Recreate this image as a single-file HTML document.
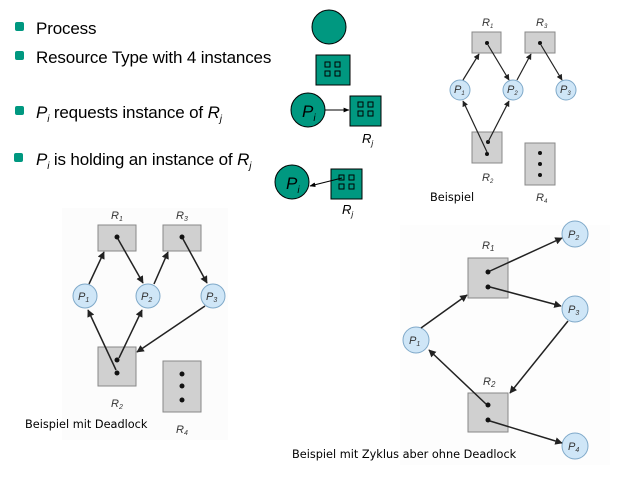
<!DOCTYPE html>
<html><head><meta charset="utf-8"><style>
body{margin:0;background:#fff;}
svg{display:block;font-family:"Liberation Sans",sans-serif;}
.lbl{font-style:italic;font-size:11px;fill:#333;}
.box{fill:#d0d0d0;stroke:#888;stroke-width:1;}
.pc{fill:#cfe6f7;stroke:#7fa9c9;stroke-width:1;}
.ar{stroke:#222;stroke-width:1.5;fill:none;marker-end:url(#ah);}
.g{fill:#009880;stroke:#000;stroke-width:1;}
.gs{fill:none;stroke:#000;stroke-width:1;}
.t{font-size:17px;fill:#000;letter-spacing:-0.15px;}
.cap{font-family:"DejaVu Sans",sans-serif;font-size:11.3px;fill:#000;}
</style></head><body>
<svg width="640" height="480" viewBox="0 0 640 480" xmlns="http://www.w3.org/2000/svg">
<defs>
<marker id="ah" viewBox="0 0 10 10" refX="9" refY="5" markerWidth="5" markerHeight="5" orient="auto"><path d="M0,0 L10,5 L0,10 z" fill="#222"/></marker>
<marker id="ah2" viewBox="0 0 10 10" refX="9" refY="5" markerWidth="6" markerHeight="6" orient="auto"><path d="M0,1 L10,5 L0,9 z" fill="#000"/></marker>
</defs>
<rect x="62" y="208" width="166" height="232" fill="#fcfcfc"/>
<rect x="400" y="225" width="210" height="240" fill="#fdfdfd"/>

<!-- legend -->
<g fill="#009880">
<rect x="15" y="22" width="9" height="9" rx="2"/>
<rect x="15" y="51" width="9" height="9" rx="2"/>
<rect x="15" y="106" width="9" height="9" rx="2"/>
<rect x="14" y="153" width="9" height="9" rx="2"/>
</g>
<text x="36" y="34" class="t">Process</text>
<text x="36" y="63" class="t">Resource Type with 4 instances</text>
<text x="36" y="118" class="t"><tspan font-style="italic">P</tspan><tspan font-style="italic" font-size="10" dy="4">i</tspan><tspan dy="-4"> requests instance of </tspan><tspan font-style="italic">R</tspan><tspan font-style="italic" font-size="10" dy="4">j</tspan></text>
<text x="36" y="165" class="t"><tspan font-style="italic">P</tspan><tspan font-style="italic" font-size="10" dy="4">i</tspan><tspan dy="-4"> is holding an instance of </tspan><tspan font-style="italic">R</tspan><tspan font-style="italic" font-size="10" dy="4">j</tspan></text>

<circle cx="329" cy="27" r="17" class="g"/>
<rect x="316" y="55" width="34" height="30" class="g"/>
<g class="gs"><rect x="325" y="62" width="5" height="5"/><rect x="335" y="62" width="5" height="5"/><rect x="325" y="71" width="5" height="5"/><rect x="335" y="71" width="5" height="5"/></g>

<circle cx="308" cy="110" r="17" class="g"/>
<text x="302" y="117" font-size="17" font-style="italic">P<tspan font-size="10" dy="4">i</tspan></text>
<line x1="325" y1="110" x2="349" y2="110" stroke="#000" stroke-width="1" marker-end="url(#ah2)"/>
<rect x="350" y="96" width="31" height="30" class="g"/>
<g class="gs"><rect x="358" y="102" width="5" height="5"/><rect x="368" y="102" width="5" height="5"/><rect x="358" y="111" width="5" height="5"/><rect x="368" y="111" width="5" height="5"/></g>
<text x="362" y="143" font-size="13" font-style="italic">R<tspan font-size="8" dy="3">j</tspan></text>

<circle cx="292" cy="182" r="17" class="g"/>
<text x="286" y="189" font-size="17" font-style="italic">P<tspan font-size="10" dy="4">i</tspan></text>
<rect x="331" y="169" width="31" height="30" class="g"/>
<g class="gs"><rect x="339" y="175" width="5" height="5"/><rect x="349" y="175" width="5" height="5"/><rect x="339" y="184" width="5" height="5"/><rect x="349" y="184" width="5" height="5"/></g>
<line x1="342" y1="178" x2="310" y2="186" stroke="#000" stroke-width="1" marker-end="url(#ah2)"/>
<text x="342" y="214" font-size="13" font-style="italic">R<tspan font-size="8" dy="3">j</tspan></text>

<!-- top right Beispiel -->
<g font-size="9">
<rect x="472" y="32" width="29" height="21" class="box"/>
<rect x="525" y="32" width="30" height="21" class="box"/>
<rect x="472" y="132" width="30" height="31" class="box"/>
<rect x="525" y="143" width="30" height="42" class="box"/>
<circle cx="460" cy="90" r="10" class="pc"/>
<circle cx="513" cy="90" r="10" class="pc"/>
<circle cx="566" cy="90" r="10" class="pc"/>
<text x="454" y="93" class="lbl" font-size="9">P<tspan font-size="6" dy="2">1</tspan></text>
<text x="507" y="93" class="lbl" font-size="9">P<tspan font-size="6" dy="2">2</tspan></text>
<text x="560" y="93" class="lbl" font-size="9">P<tspan font-size="6" dy="2">3</tspan></text>
<text x="482" y="26" class="lbl" font-size="9">R<tspan font-size="6" dy="2">1</tspan></text>
<text x="536" y="26" class="lbl" font-size="9">R<tspan font-size="6" dy="2">3</tspan></text>
<text x="482" y="181" class="lbl" font-size="9">R<tspan font-size="6" dy="2">2</tspan></text>
<text x="536" y="201" class="lbl" font-size="9">R<tspan font-size="6" dy="2">4</tspan></text>
<g fill="#111"><circle cx="487" cy="43" r="2"/><circle cx="540" cy="43" r="2"/><circle cx="488" cy="142" r="2"/><circle cx="487" cy="154" r="2"/><circle cx="540" cy="153" r="2"/><circle cx="540" cy="164" r="2"/><circle cx="540" cy="175" r="2"/></g>
<g class="ar" style="stroke-width:1.2">
<line x1="463" y1="80" x2="479" y2="54"/>
<line x1="488" y1="45" x2="509" y2="80"/>
<line x1="517" y1="80" x2="531" y2="54"/>
<line x1="541" y1="45" x2="562" y2="80"/>
<line x1="487" y1="152" x2="463" y2="101"/>
<line x1="488" y1="142" x2="509" y2="101"/>
</g>
<text x="430" y="201" class="cap" font-size="10.5">Beispiel</text>
</g>

<!-- bottom left -->
<rect x="98" y="225" width="38" height="26" class="box"/>
<rect x="163" y="225" width="38" height="26" class="box"/>
<rect x="98" y="347" width="38" height="39" class="box"/>
<rect x="163" y="361" width="38" height="51" class="box"/>
<circle cx="85" cy="296" r="12" class="pc"/>
<circle cx="148" cy="296" r="12" class="pc"/>
<circle cx="213" cy="296" r="12" class="pc"/>
<text x="78" y="300" class="lbl">P<tspan font-size="7" dy="2">1</tspan></text>
<text x="141" y="300" class="lbl">P<tspan font-size="7" dy="2">2</tspan></text>
<text x="206" y="300" class="lbl">P<tspan font-size="7" dy="2">3</tspan></text>
<text x="111" y="219" class="lbl">R<tspan font-size="7" dy="2">1</tspan></text>
<text x="176" y="219" class="lbl">R<tspan font-size="7" dy="2">3</tspan></text>
<text x="111" y="407" class="lbl">R<tspan font-size="7" dy="2">2</tspan></text>
<text x="176" y="433" class="lbl">R<tspan font-size="7" dy="2">4</tspan></text>
<g fill="#111"><circle cx="117" cy="237" r="2.5"/><circle cx="182" cy="237" r="2.5"/><circle cx="117" cy="360" r="2.5"/><circle cx="117" cy="373" r="2.5"/><circle cx="182" cy="374" r="2.5"/><circle cx="182" cy="386" r="2.5"/><circle cx="182" cy="400" r="2.5"/></g>
<g class="ar">
<line x1="89" y1="284" x2="104" y2="252"/>
<line x1="118" y1="239" x2="143" y2="283"/>
<line x1="154" y1="284" x2="168" y2="252"/>
<line x1="183" y1="239" x2="207" y2="283"/>
<line x1="116" y1="370" x2="88" y2="310"/>
<line x1="119" y1="358" x2="142" y2="310"/>
<line x1="205" y1="306" x2="137" y2="352"/>
</g>
<text x="25" y="428" class="cap" font-size="11.2">Beispiel mit Deadlock</text>

<!-- bottom right -->
<rect x="468" y="258" width="40" height="40" class="box"/>
<rect x="468" y="393" width="40" height="39" class="box"/>
<circle cx="575" cy="234" r="13" class="pc"/>
<circle cx="575" cy="309" r="13" class="pc"/>
<circle cx="416" cy="340" r="13" class="pc"/>
<circle cx="575" cy="446" r="13" class="pc"/>
<text x="568" y="238" class="lbl">P<tspan font-size="7" dy="2">2</tspan></text>
<text x="568" y="313" class="lbl">P<tspan font-size="7" dy="2">3</tspan></text>
<text x="409" y="344" class="lbl">P<tspan font-size="7" dy="2">1</tspan></text>
<text x="568" y="450" class="lbl">P<tspan font-size="7" dy="2">4</tspan></text>
<text x="482" y="249" class="lbl" font-size="12">R<tspan font-size="8" dy="2">1</tspan></text>
<text x="483" y="385" class="lbl" font-size="12">R<tspan font-size="8" dy="2">2</tspan></text>
<g fill="#111"><circle cx="488" cy="272" r="2.5"/><circle cx="488" cy="287" r="2.5"/><circle cx="488" cy="405" r="2.5"/><circle cx="488" cy="420" r="2.5"/></g>
<g class="ar">
<line x1="421" y1="328" x2="467" y2="295"/>
<line x1="490" y1="271" x2="562" y2="238"/>
<line x1="490" y1="287" x2="561" y2="306"/>
<line x1="568" y1="321" x2="510" y2="393"/>
<line x1="486" y1="404" x2="429" y2="350"/>
<line x1="490" y1="421" x2="562" y2="443"/>
</g>
<text x="292" y="458" class="cap" font-size="11.4">Beispiel mit Zyklus aber ohne Deadlock</text>
</svg>
</body></html>
